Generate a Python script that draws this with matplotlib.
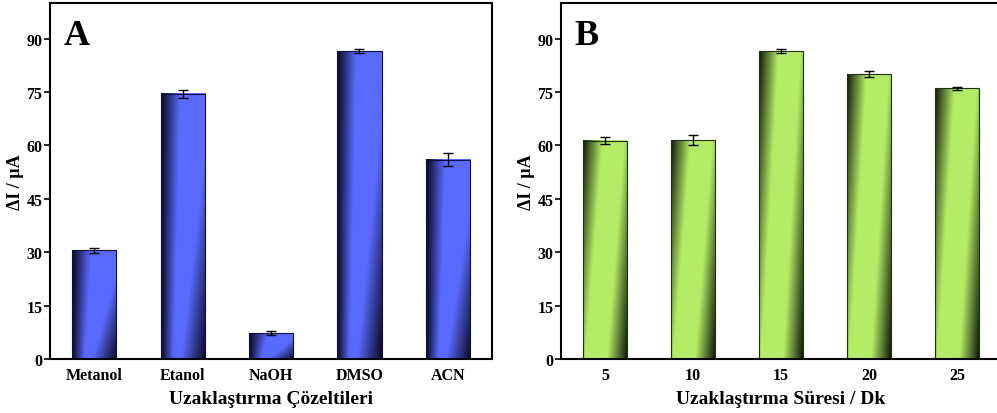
import numpy as np
import matplotlib
matplotlib.use('Agg')
import matplotlib.pyplot as plt

plt.rcParams['font.family'] = ['Liberation Serif', 'DejaVu Serif']
plt.rcParams['font.weight'] = 'bold'

# Data
solvents = ['Metanol', 'Etanol', 'NaOH', 'DMSO', 'ACN']
solvent_vals = [30.5, 74.5, 7.3, 86.5, 56.0]
solvent_err = [0.7, 1.2, 0.5, 0.5, 1.8]

times = ['5', '10', '15', '20', '25']
time_vals = [61.3, 61.5, 86.5, 80.0, 76.0]
time_err = [1.0, 1.5, 0.5, 0.9, 0.5]


def shade_blue(u, v):
    left = np.clip(u / (0.28 + 0.15 * v), 0, 1)
    right = np.clip(((1 - u) + 0.7 * v) / 0.55, 0, 1)
    return left * right


def shade_green(u, v):
    left = np.clip((u + 0.4 * (1 - v)) / 0.45, 0, 1)
    right = np.clip(((1 - u) + 0.4 * v) / 0.45, 0, 1)
    return left * right


def gradient_bars(ax, vals, err, light, dark, edge, shade_fn):
    x = np.arange(len(vals))
    bars = ax.bar(x, vals, width=0.5, color='none', edgecolor=edge,
                  linewidth=0.8, zorder=3)
    ax.errorbar(x, vals, yerr=err, fmt='none', ecolor='black',
                elinewidth=1.0, capsize=3.5, capthick=1.0, zorder=4)
    uu, vv = np.meshgrid(np.linspace(0, 1, 120), np.linspace(0, 1, 200))
    light = np.array(light) / 255.0
    dark = np.array(dark) / 255.0
    for b in bars:
        s = shade_fn(uu, vv)[..., None]
        img = dark + (light - dark) * s
        x0 = b.get_x()
        ax.imshow(img, extent=[x0, x0 + b.get_width(), 0, b.get_height()],
                  origin='lower', aspect='auto', zorder=2,
                  interpolation='bilinear')
    ax.set_xlim(-0.5, len(vals) - 0.5)
    ax.set_ylim(0, 100)
    ax.set_yticks([0, 15, 30, 45, 60, 75, 90])
    ax.set_xticks(x)
    ax.tick_params(axis='x', direction='in', length=4, width=1.2,
                   labelsize=11.5, pad=6)
    ax.tick_params(axis='y', direction='out', length=4, width=1.2,
                   labelsize=11.5, pad=1.5)
    for sp in ax.spines.values():
        sp.set_linewidth(1.5)
    ax.set_ylabel('ΔI / µA', fontsize=13, fontweight='bold')


fig = plt.figure(figsize=(9.97, 4.14), dpi=100)
axA = fig.add_axes([50 / 997, 54 / 414, 442 / 997, 356 / 414])
axB = fig.add_axes([561 / 997, 54 / 414, 440 / 997, 356 / 414])

gradient_bars(axA, solvent_vals, solvent_err, (90, 106, 255), (8, 8, 30),
              '#101040', shade_blue)
axA.set_xticklabels(solvents)
axA.set_xlabel('Uzaklaştırma Çözeltileri', fontsize=14, fontweight='bold',
               labelpad=5)
axA.yaxis.set_label_coords(-0.058, 0.5)
axA.text(0.03, 0.955, 'A', transform=axA.transAxes, fontsize=26,
         fontweight='bold', va='top')

gradient_bars(axB, time_vals, time_err, (180, 236, 102), (15, 25, 8),
              '#203010', shade_green)
axB.set_xticklabels(times)
axB.set_xlabel('Uzaklaştırma Süresi / Dk', fontsize=14, fontweight='bold',
               labelpad=5)
axB.yaxis.set_label_coords(-0.058, 0.5)
axB.text(0.03, 0.955, 'B', transform=axB.transAxes, fontsize=26,
         fontweight='bold', va='top')

fig.savefig('out.png', dpi=100)
